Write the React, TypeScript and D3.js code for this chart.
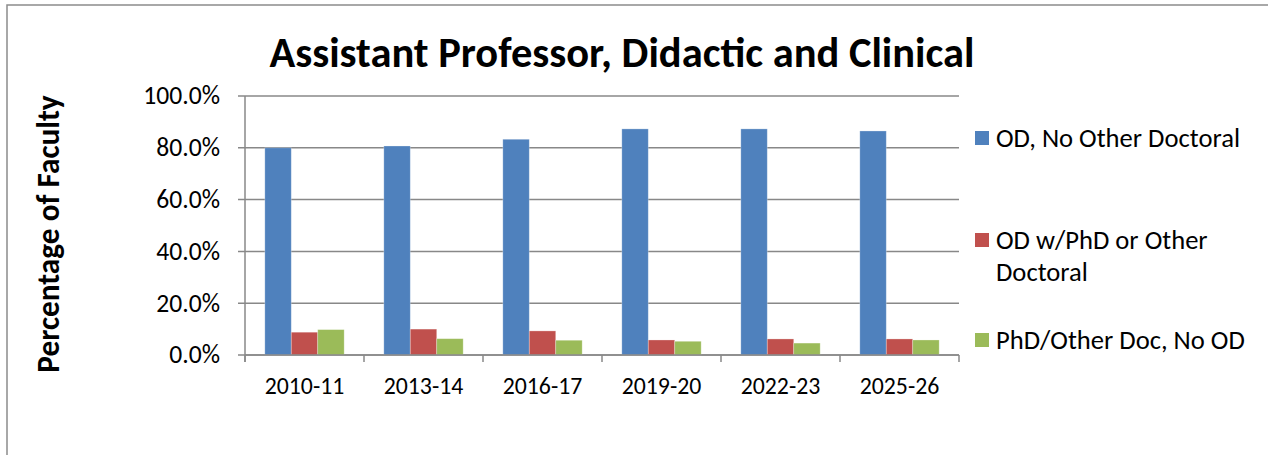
import React from "react";
import * as d3 from "d3";

const years = ["2010-11", "2013-14", "2016-17", "2019-20", "2022-23", "2025-26"];
const seriesNames = ["OD, No Other Doctoral", "OD w/PhD or Other Doctoral", "PhD/Other Doc, No OD"];
const odOnly = [0.8, 0.807, 0.833, 0.873, 0.873, 0.865];
const odPhd = [0.088, 0.1, 0.093, 0.058, 0.062, 0.062];
const phdNoOd = [0.098, 0.063, 0.057, 0.053, 0.046, 0.058];
const yTicks = [0, 0.2, 0.4, 0.6, 0.8, 1.0];
const colors = ["#4F81BD", "#C0504D", "#9BBB59"];

const FONT = "Carlito, 'Liberation Sans', Arial, sans-serif";

const App = () => {
  const W = 1268;
  const H = 455;
  const plot = { left: 245, right: 959, top: 96, bottom: 355 };

  const values = [odOnly, odPhd, phdNoOd];

  const x0 = d3.scaleBand<string>().domain(years).range([plot.left, plot.right]).padding(0);
  const x1 = d3
    .scaleBand<string>()
    .domain(seriesNames)
    .range([0, x0.bandwidth()])
    .paddingInner(0)
    .paddingOuter(0.75);
  const y = d3.scaleLinear().domain([0, 1]).range([plot.bottom, plot.top]);
  const fmt = d3.format(".1%");

  const gridColor = "#888888";

  // legend rows: square center y, first text baseline
  const legendRows = [
    { cy: 138, lines: ["OD, No Other Doctoral"], base: 147 },
    { cy: 240, lines: ["OD w/PhD or Other", "Doctoral"], base: 249 },
    { cy: 340, lines: ["PhD/Other Doc, No OD"], base: 349 },
  ];

  return (
    <svg
      width={W}
      height={H}
      style={{ position: "absolute", left: 0, top: 0, background: "#fff" }}
      fontFamily={FONT}
    >
      <rect x={0} y={0} width={W} height={H} fill="#fff" />
      {/* chart border, runs off the window */}
      <rect x={7} y={5} width={W + 20} height={H + 20} fill="none" stroke="#8c8c8c" strokeWidth={1.5} />

      <text x={622} y={67} textAnchor="middle" fontSize={42.5} fontWeight="bold" fill="#000">
        Assistant Professor, Didactic and Clinical
      </text>

      <text
        transform="translate(59, 234) rotate(-90)"
        textAnchor="middle"
        fontSize={31.3}
        fontWeight="bold"
        fill="#000"
      >
        Percentage of Faculty
      </text>

      {/* gridlines + y ticks */}
      {yTicks.map((t) => (
        <g key={t}>
          <line x1={plot.left - 7} x2={plot.right} y1={y(t)} y2={y(t)} stroke={gridColor} strokeWidth={1.5} />
          <text x={220} y={y(t)} dy="0.33em" textAnchor="end" fontSize={25.6} fill="#000">
            {fmt(t)}
          </text>
        </g>
      ))}

      {/* bars */}
      {years.map((yr, i) => (
        <g key={yr} transform={`translate(${x0(yr)},0)`}>
          {seriesNames.map((s, j) => (
            <rect
              key={s}
              x={x1(s)}
              y={y(values[j][i])}
              width={x1.bandwidth()}
              height={plot.bottom - y(values[j][i])}
              fill={colors[j]}
              stroke="#ffffff"
              strokeOpacity={0.35}
              strokeWidth={0.8}
            />
          ))}
        </g>
      ))}

      {/* axes */}
      <line x1={plot.left} x2={plot.left} y1={plot.top} y2={plot.bottom + 7} stroke={gridColor} strokeWidth={1.5} />
      <line x1={plot.left} x2={plot.right} y1={plot.bottom} y2={plot.bottom} stroke={gridColor} strokeWidth={1.5} />
      {years.concat(["end"]).map((yr, i) => {
        const xx = plot.left + i * x0.step();
        return <line key={yr} x1={xx} x2={xx} y1={plot.bottom} y2={plot.bottom + 7} stroke={gridColor} strokeWidth={1.5} />;
      })}
      {years.map((yr) => (
        <text key={yr} x={(x0(yr) as number) + x0.bandwidth() / 2} y={394} textAnchor="middle" fontSize={23.8} fill="#000">
          {yr}
        </text>
      ))}

      {/* legend */}
      {legendRows.map((r, i) => (
        <g key={i}>
          <rect x={975} y={r.cy - 7} width={14} height={14} fill={colors[i]} />
          {r.lines.map((ln, k) => (
            <text key={k} x={996} y={r.base + k * 32} fontSize={26.6} fill="#000">
              {ln}
            </text>
          ))}
        </g>
      ))}
    </svg>
  );
};

export default App;
